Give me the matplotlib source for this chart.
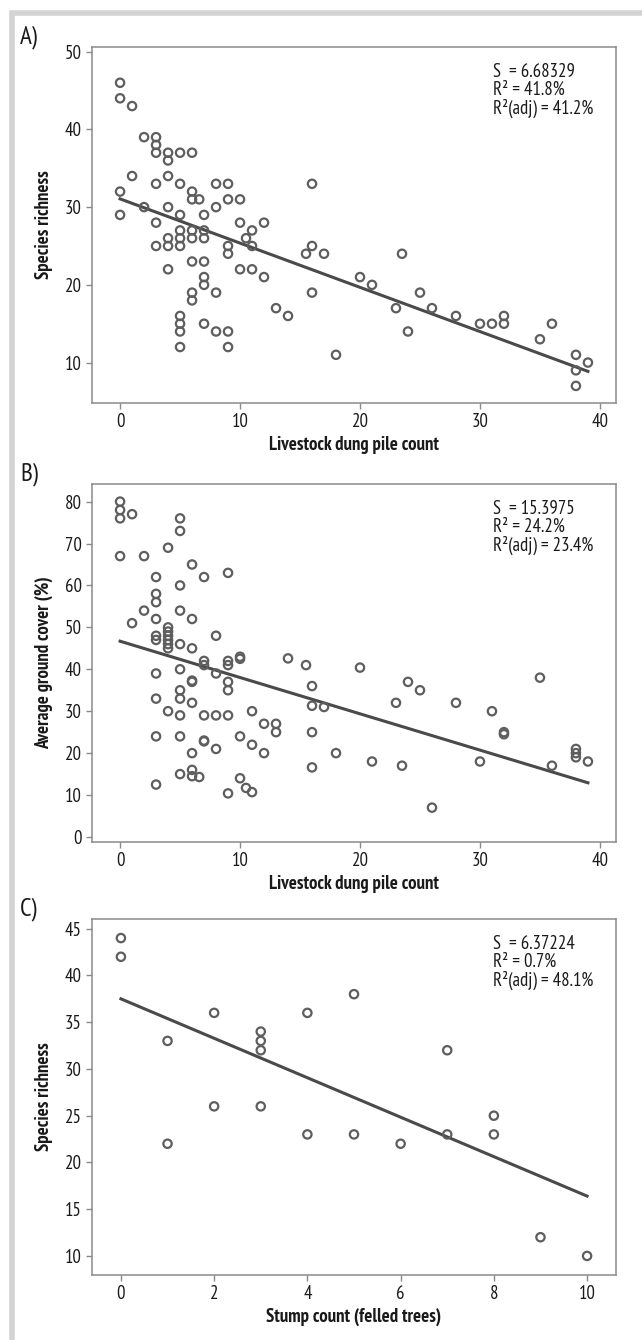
import matplotlib
matplotlib.use("Agg")
import matplotlib.pyplot as plt
from matplotlib import font_manager as fm
from matplotlib.patches import Rectangle

# pick a narrow sans that is close to the condensed face used in the reference
installed = {f.name for f in fm.fontManager.ttflist}
narrow = 'DejaVu Sans'
for cand in ['PT Sans Narrow', 'Fira Sans Condensed', 'Roboto Condensed', 'Archivo Narrow',
             'Open Sans Condensed', 'Encode Sans Condensed', 'IBM Plex Sans Condensed',
             'Asap Condensed', 'Barlow Semi Condensed', 'Liberation Sans Narrow']:
    if cand in installed:
        narrow = cand
        break
plt.rcParams['font.family'] = [narrow, 'DejaVu Sans']

# Panel A: dung piles vs species richness
dung_a = [0, 0, 1, 2, 3, 3, 3, 4, 4, 5, 6,
          1, 4, 3, 5, 8, 9, 0, 6, 6, 6.6, 9, 10,
          0, 2, 4, 5, 7, 8, 3, 10, 12, 11, 5, 6, 7,
          4, 5, 6, 7, 10.5, 3, 4, 5, 9, 9, 11,
          6, 7, 4, 10, 11, 12, 7, 7, 6, 8, 6, 13,
          5, 5, 7, 5, 8, 9, 5, 9,
          16, 15.5, 16, 17, 16, 14, 18, 20, 21, 23.5, 23, 24, 25, 26, 28,
          30, 31, 32, 32, 35, 36, 38, 38, 38, 39]
rich_a = [46, 44, 43, 39, 39, 38, 37, 37, 36, 37, 37,
          34, 34, 33, 33, 33, 33, 32, 32, 31, 31, 31, 31,
          29, 30, 30, 29, 29, 30, 28, 28, 28, 27, 27, 27, 27,
          26, 26, 26, 26, 26, 25, 25, 25, 25, 24, 25,
          23, 23, 22, 22, 22, 21, 21, 20, 19, 19, 18, 17,
          16, 15, 15, 14, 14, 14, 12, 12,
          33, 24, 25, 24, 19, 16, 11, 21, 20, 24, 17, 14, 19, 17, 16,
          15, 15, 16, 15, 13, 15, 11, 9, 7, 10]
stats_a = ["S  = 6.68329", "R² = 41.8%", "R²(adj) = 41.2%"]
fit_a = (31.06, -0.569)

# Panel B: dung piles vs ground cover
dung_b = [0, 0, 0, 1, 5, 5, 4, 0, 2, 6, 7, 9, 3, 5, 3, 3, 2, 5, 3, 6, 1,
          4, 4, 4, 4, 4, 4, 3, 3, 8, 5, 6,
          7, 7, 9, 9, 10, 10, 8, 3, 5, 6, 6, 9, 9, 5, 5, 3, 6, 4, 5, 7, 8, 9,
          11, 12, 13, 13, 3, 5, 7, 7, 8, 10, 11, 12, 6, 6, 5, 6, 6.6, 3, 10,
          10.5, 11, 9,
          14, 15.5, 16, 16, 17, 16, 16, 18, 20, 21, 23, 23.5, 24, 25, 26, 28,
          30, 31, 32, 32, 35, 36, 38, 38, 38, 39]
cover_b = [80, 78, 76, 77, 76, 73, 69, 67, 67, 65, 62, 63, 62, 60, 58, 56, 54, 54, 52, 52, 51,
           50, 49, 48, 47, 46, 45, 48, 47, 48, 46, 45,
           42, 41, 42, 41, 43, 42.5, 39, 39, 40, 37, 37.3, 37, 35, 35, 33, 33, 32, 30, 29, 29, 29, 29,
           30, 27, 27, 25, 24, 24, 23, 22.8, 21, 24, 22, 20, 20, 16, 15, 14.5, 14.3, 12.5, 14,
           11.7, 10.7, 10.4,
           42.6, 41, 36, 31.3, 31, 25, 16.6, 20, 40.4, 18, 32, 17, 37, 35, 7, 32,
           18, 30, 25, 24.5, 38, 17, 21, 20, 19, 18]
stats_b = ["S  = 15.3975", "R² = 24.2%", "R²(adj) = 23.4%"]
fit_b = (46.7, -0.866)

# Panel C: stumps vs species richness
stumps_c = [0, 0, 1, 1, 2, 2, 3, 3, 3, 3, 4, 4, 5, 5, 6, 7, 7, 8, 8, 9, 10]
rich_c = [44, 42, 33, 22, 36, 26, 34, 33, 32, 26, 36, 23, 38, 23, 22, 32, 23, 25, 23, 12, 10]
stats_c = ["S  = 6.37224", "R² = 0.7%", "R²(adj) = 48.1%"]
fit_c = (37.5, -2.11)

W, H = 642, 1340
fig = plt.figure(figsize=(W / 100, H / 100), dpi=100)

# light grey frame round the figure
fig.patches.append(Rectangle((12 / W, -0.05), 1.2, 1 - 13 / H + 0.05, transform=fig.transFigure,
                             fill=False, edgecolor='#d4d4d4', linewidth=4))

panels = [
    ("A)", dung_a, rich_a, stats_a, fit_a, (47, 403), (-2.34, 41.34), (4.8, 50.6),
     [0, 10, 20, 30, 40], [10, 20, 30, 40, 50], "Livestock dung pile count", "Species richness"),
    ("B)", dung_b, cover_b, stats_b, fit_b, (484, 842), (-2.34, 41.34), (-1.2, 84.2),
     [0, 10, 20, 30, 40], [0, 10, 20, 30, 40, 50, 60, 70, 80], "Livestock dung pile count",
     "Average ground cover (%)"),
    ("C)", stumps_c, rich_c, stats_c, fit_c, (919, 1275), (-0.62, 10.62), (7.96, 46.04),
     [0, 2, 4, 6, 8, 10], [10, 15, 20, 25, 30, 35, 40, 45], "Stump count (felled trees)",
     "Species richness"),
]

for letter, xs, ys, stats, fit, (top, bot), xlim, ylim, xt, yt, xlab, ylab in panels:
    ax = fig.add_axes([92 / W, 1 - bot / H, (616 - 92) / W, (bot - top) / H])
    ax.scatter(xs, ys, s=36, facecolors='none', edgecolors='#5e5e5e', linewidths=1.6, zorder=3)
    x0, x1 = min(xs), max(xs)
    ax.plot([x0, x1], [fit[0] + fit[1] * x0, fit[0] + fit[1] * x1], color='#4a4a4a', lw=2.2, zorder=2)
    ax.set_xlim(*xlim)
    ax.set_ylim(*ylim)
    ax.set_xticks(xt)
    ax.set_yticks(yt)
    for sp in ax.spines.values():
        sp.set_color('#8a8a8a')
        sp.set_linewidth(1.1)
    ax.tick_params(colors='#8a8a8a', labelcolor='#1a1a1a', labelsize=13.5, length=4, width=1)
    ax.set_xlabel(xlab, fontsize=13.5, fontweight='bold', color='#1a1a1a', labelpad=3)
    ax.set_ylabel(ylab, fontsize=13.5, fontweight='bold', color='#1a1a1a', labelpad=8)
    ax.text(0.765, 0.955, "\n".join(stats), transform=ax.transAxes, ha='left', va='top',
            fontsize=13.5, color='#1a1a1a', linespacing=1.0)
    fig.text(20 / W, 1 - (top - 10) / H, letter, fontsize=18, ha='left', va='center', color='#1a1a1a')

fig.savefig("out.png", dpi=100, facecolor='white')
